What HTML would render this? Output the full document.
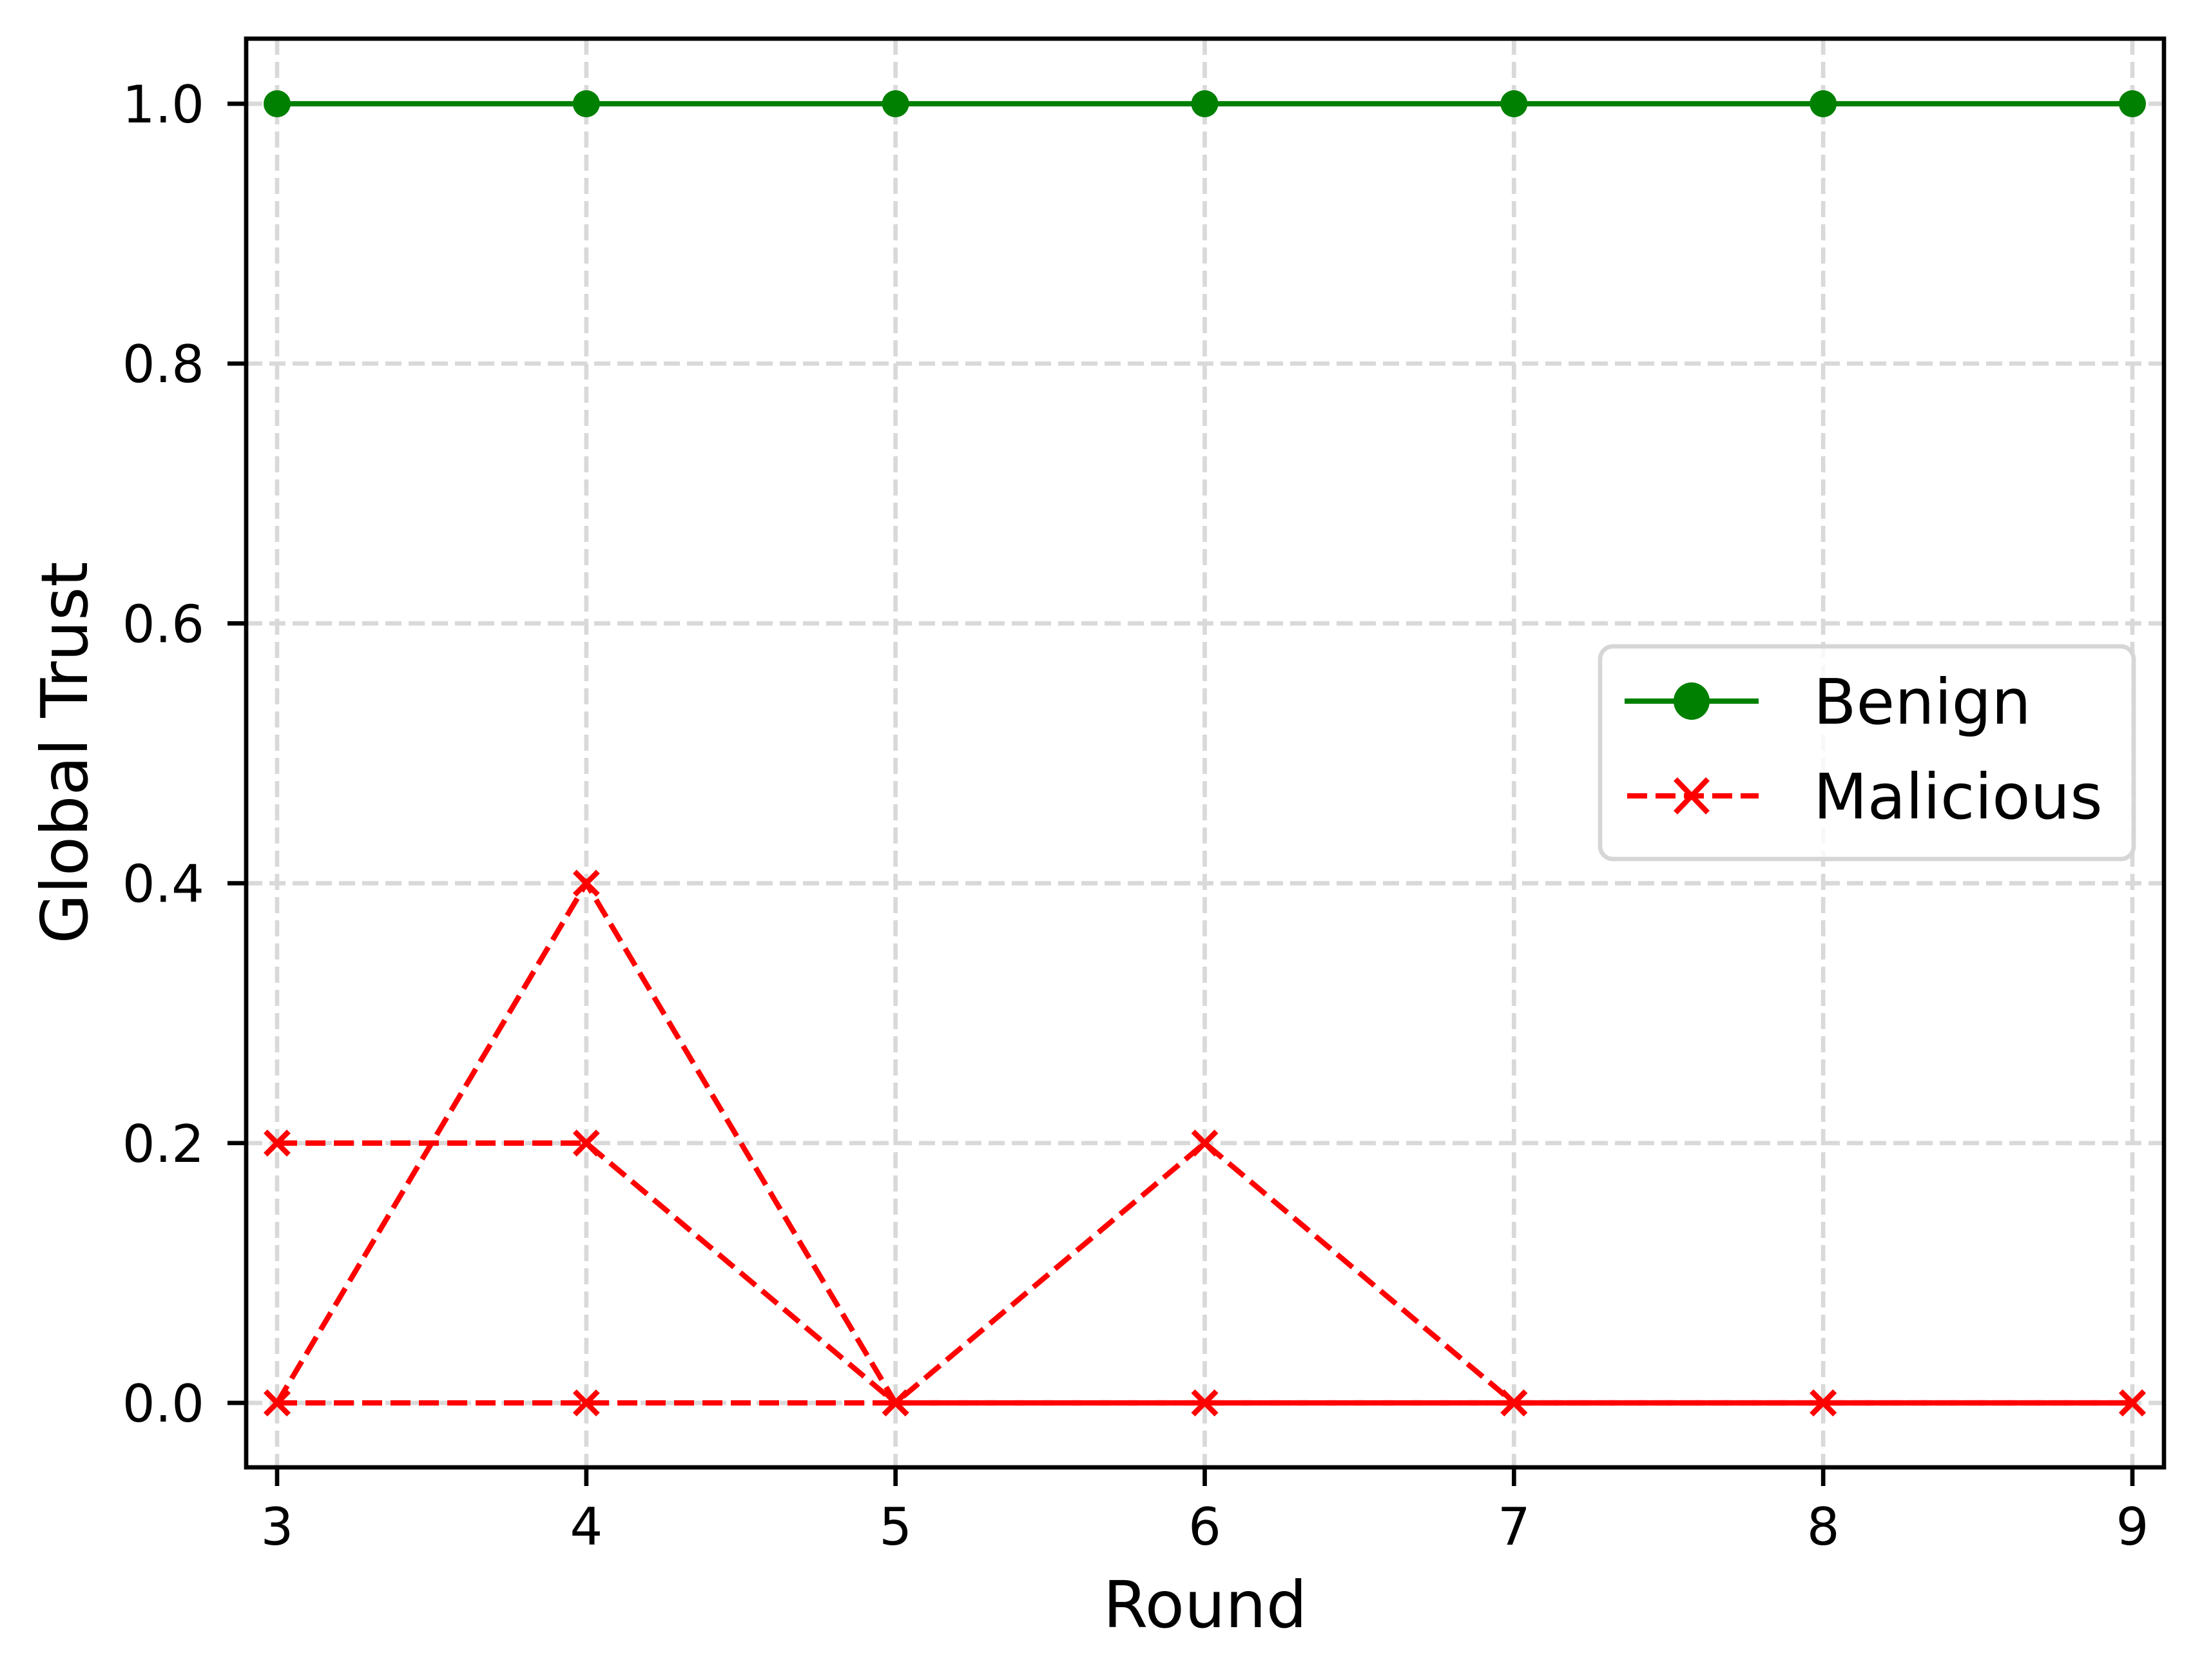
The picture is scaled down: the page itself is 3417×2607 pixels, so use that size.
<!DOCTYPE html>
<html><head><meta charset="utf-8"><style>
html,body{margin:0;padding:0;background:#fff}
svg{display:block}
text{font-family:"DejaVu Sans","Liberation Sans",sans-serif;fill:#000}
</style></head><body>
<svg id="chart" xmlns="http://www.w3.org/2000/svg" width="3417" height="2607" viewBox="0 0 3417 2607">
<rect width="3417" height="2607" fill="#fff"/>
<g id="grid"></g>
<g id="series"></g>
<rect x="382" y="60" width="2976" height="2217" fill="none" stroke="#000" stroke-width="6.7"/>
<g id="ticks"></g>
<text x="1870" y="2525" font-size="100" text-anchor="middle">Round</text>
<text transform="translate(135,1168) rotate(-90)" font-size="100" text-anchor="middle">Global Trust</text>
<g>
<rect x="2483" y="1003" width="828" height="330" rx="20" fill="#fff" fill-opacity="0.8" stroke="#d6d6d6" stroke-width="6.7"/>
<g>
<line x1="2521" y1="1088" x2="2729" y2="1088" stroke="#008000" stroke-width="8.3"/>
<ellipse cx="2625" cy="1088" rx="28" ry="29" fill="#008000"/>
<text x="2814" y="1123" font-size="97">Benign</text>
</g>
<g>
<line x1="2525" y1="1235" x2="2729" y2="1235" stroke="#ff0000" stroke-width="8.3" stroke-dasharray="31,13"/>
<path d="M2600 1209 L2650 1261 M2600 1261 L2650 1209" stroke="#ff0000" stroke-width="8.3"/>
<text x="2814" y="1270" font-size="97">Malicious</text>
</g>
</g>
</svg>
<script>
const rounds = [3,4,5,6,7,8,9];
const benign = [1,1,1,1,1,1,1];
const maliciousA = [0.2,0.2,0,0,0,0,0];
const maliciousB = [0,0.4,0,0.2,0,0,0];
const maliciousC = [0,0,0,0,0,0,0];
const yTicks = [0,0.2,0.4,0.6,0.8,1.0];
const yTickLabels = ["0.0","0.2","0.4","0.6","0.8","1.0"];

const NS="http://www.w3.org/2000/svg";
const X0=430,X1=3309,Y0=2177,Y1=161;
function sx(v){return X0+(v-3)/(9-3)*(X1-X0);}
function sy(v){return Y0+(v-0)/(1-0)*(Y1-Y0);}
function mk(tag,attrs,parent){const e=document.createElementNS(NS,tag);for(const k in attrs)e.setAttribute(k,attrs[k]);parent.appendChild(e);return e;}
const grid=document.getElementById('grid'),series=document.getElementById('series'),ticks=document.getElementById('ticks');

rounds.forEach(r=>{
  const g=mk('line',{x1:sx(r),x2:sx(r),y1:60,y2:2277,stroke:'#d9d9d9','stroke-width':6.7,'stroke-dasharray':'25,11'},grid);
  
  
  const t=mk('line',{x1:sx(r),x2:sx(r),y1:2277,y2:2306,stroke:'#000','stroke-width':6.7},ticks);
  
  
  const l=mk('text',{x:sx(r),y:2397,'font-size':80,'text-anchor':'middle'},ticks);
  l.textContent=r;
  
  
});
yTicks.forEach((v,i)=>{
  const g=mk('line',{x1:382,x2:3358,y1:sy(v),y2:sy(v),stroke:'#d9d9d9','stroke-width':6.7,'stroke-dasharray':'25,11'},grid);
  
  
  const t=mk('line',{x1:353,x2:382,y1:sy(v),y2:sy(v),stroke:'#000','stroke-width':6.7},ticks);
  
  
  const l=mk('text',{x:317,y:sy(v)+29,'font-size':80,'text-anchor':'end'},ticks);
  l.textContent=yTickLabels[i];
  
  
});

function pts(vals){return vals.map((v,i)=>sx(rounds[i])+','+sy(v)).join(' ');}
const bl=mk('polyline',{points:pts(benign),fill:'none',stroke:'#008000','stroke-width':8.3},series);


benign.forEach((v,i)=>{
  const c=mk('circle',{cx:sx(rounds[i]),cy:sy(v),r:21,fill:'#008000'},series);
  
  
});
[maliciousA,maliciousB,maliciousC].forEach((vals,k)=>{
  const pl=mk('polyline',{points:pts(vals),fill:'none',stroke:'#ff0000','stroke-width':8.3,'stroke-dasharray':'31,13'},series);
  
  
  vals.forEach((v,i)=>{
    const x=sx(rounds[i]),y=sy(v),d=18;
    const m=mk('path',{d:`M${x-d} ${y-d} L${x+d} ${y+d} M${x-d} ${y+d} L${x+d} ${y-d}`,stroke:'#ff0000','stroke-width':8.3},series);
    
    
  });
});
</script>
</body></html>
